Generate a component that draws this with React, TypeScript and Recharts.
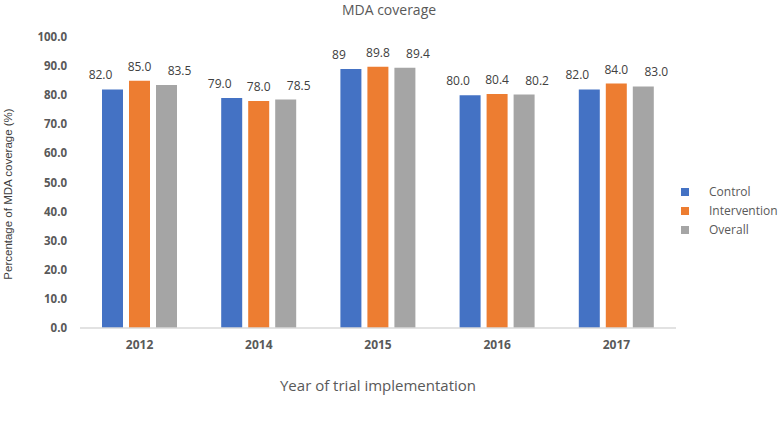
import React from "react";
import { BarChart, Bar, XAxis, YAxis, LabelList, Label } from "recharts";

// Year of trial implementation
const years = ["2012", "2014", "2015", "2016", "2017"];

// MDA coverage (%) by arm
const control = [82.0, 79.0, 89, 80.0, 82.0];
const intervention = [85.0, 78.0, 89.8, 80.4, 84.0];
const overall = [83.5, 78.5, 89.4, 80.2, 83.0];

// Value labels as printed above each bar
const controlLabels = ["82.0", "79.0", "89", "80.0", "82.0"];
const interventionLabels = ["85.0", "78.0", "89.8", "80.4", "84.0"];
const overallLabels = ["83.5", "78.5", "89.4", "80.2", "83.0"];

const yTicks = [0, 10, 20, 30, 40, 50, 60, 70, 80, 90, 100];

const series = [
  { key: "control", name: "Control", color: "#4472C4", labels: controlLabels, dx: -12 },
  { key: "intervention", name: "Intervention", color: "#ED7D31", labels: interventionLabels, dx: 0 },
  { key: "overall", name: "Overall", color: "#A5A5A5", labels: overallLabels, dx: 13 },
];

const data = years.map((year, i) => ({
  year,
  control: control[i],
  intervention: intervention[i],
  overall: overall[i],
}));

const FONT = "'Open Sans', 'Noto Sans', sans-serif";
const TEXT = "#595959";

const makeValueLabel = (labels: string[], dx: number) => (props: any) => {
  const { x, y, width, index } = props;
  return (
    <text
      x={Number(x) + Number(width) / 2 + dx}
      y={Number(y) - 10}
      textAnchor="middle"
      fontFamily={FONT}
      fontSize={12}
      fill="#404040"
    >
      {labels[index]}
    </text>
  );
};

export default function App() {
  return (
    <div style={{ position: "fixed", left: 0, top: 0, width: 778, height: 422, background: "#fff" }}>
      <div
        style={{
          position: "absolute",
          left: 0,
          width: 778,
          top: 0,
          textAlign: "center",
          fontFamily: FONT,
          fontSize: 14,
          lineHeight: "19px",
          color: TEXT,
        }}
      >
        MDA coverage
      </div>
      <div style={{ position: "absolute", left: 8, top: 194, width: 0, height: 0 }}>
        <div
          style={{
            position: "absolute",
            left: 0,
            top: 0,
            transform: "translate(-50%, -50%) rotate(-90deg)",
            whiteSpace: "nowrap",
            fontFamily: "'Liberation Sans', Arial, sans-serif",
            fontSize: 11.5,
            color: "#404040",
          }}
        >
          Percentage of MDA coverage (%)
        </div>
      </div>
      <BarChart
        width={778}
        height={422}
        data={data}
        margin={{ top: 37, right: 102, bottom: 64, left: 20 }}
        barSize={21}
        barGap={6}
      >
        <XAxis
          dataKey="year"
          axisLine={{ stroke: "#D9D9D9", strokeWidth: 1.5 }}
          tickLine={false}
          tickMargin={6}
          height={30}
          tick={{ fontFamily: FONT, fontSize: 12, fontWeight: 700, fill: TEXT }}
        >
          <Label
            value="Year of trial implementation"
            position="insideBottom"
            offset={-33}
            style={{ fontFamily: FONT, fontSize: 15, fill: TEXT }}
          />
        </XAxis>
        <YAxis
          domain={[0, 100]}
          ticks={yTicks}
          interval={0}
          axisLine={false}
          tickLine={false}
          tickMargin={7}
          width={60}
          tickFormatter={(v: number) => v.toFixed(1)}
          tick={{ fontFamily: FONT, fontSize: 11.5, fontWeight: 700, fill: TEXT }}
        />
        {series.map((s) => (
          <Bar key={s.key} dataKey={s.key} name={s.name} fill={s.color} isAnimationActive={false}>
            <LabelList dataKey={s.key} content={makeValueLabel(s.labels, s.dx)} />
          </Bar>
        ))}
      </BarChart>
      <div style={{ position: "absolute", left: 681, top: 182, fontFamily: FONT, fontSize: 12, color: TEXT }}>
        {series.map((s) => (
          <div key={s.key} style={{ display: "flex", alignItems: "center", height: 19 }}>
            <span style={{ display: "inline-block", width: 8, height: 8, background: s.color, marginRight: 20 }} />
            <span>{s.name}</span>
          </div>
        ))}
      </div>
    </div>
  );
}
